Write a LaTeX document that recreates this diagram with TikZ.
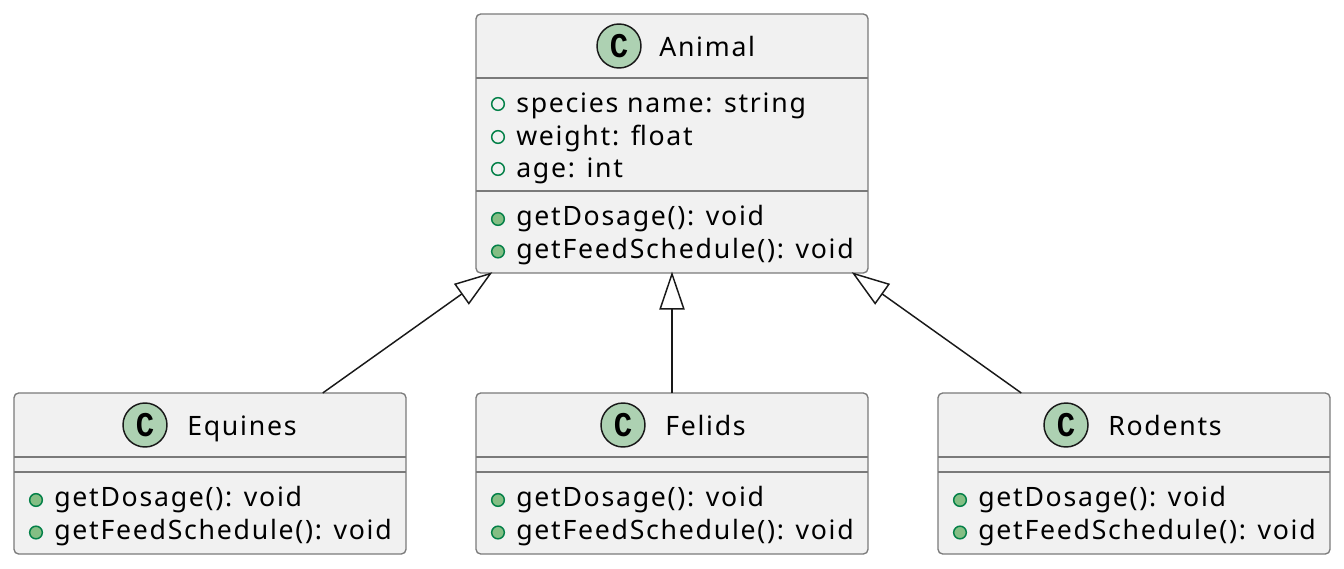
\documentclass[tikz,border=0pt]{standalone}
\usepackage{xcolor}
\usepackage{fontspec}
\setmainfont[LetterSpace=6.5]{Noto Sans}
\newfontfamily\spotfont[FakeStretch=0.88]{Liberation Mono}
\usepackage{tikz}
\usetikzlibrary{arrows.meta}
\definecolor{clsfill}{HTML}{F1F1F1}
\definecolor{clsline}{HTML}{7A7A7A}
\definecolor{spotfill}{HTML}{ADD1B2}
\definecolor{visline}{HTML}{038048}
\definecolor{visfill}{HTML}{84BE84}
\tikzset{
  clsbox/.style={draw=clsline, fill=clsfill, line width=1pt, rounded corners=3.5pt, inner sep=0pt, outer sep=0pt},
  clssep/.style={draw=clsline, line width=1pt},
  clsspot/.style={circle, draw=black!90, fill=spotfill, line width=1.1pt, minimum size=33pt, inner sep=0pt, font=\spotfont\bfseries\fontsize{26}{26}\selectfont},
  clstitle/.style={anchor=base west, inner sep=0pt, font=\fontsize{20}{24}\selectfont},
  clsrow/.style={anchor=base west, inner sep=0pt, font=\fontsize{20}{24}\selectfont},
  clsfield/.style={circle, draw=visline, fill=none, line width=1.1pt, minimum size=9.5pt, inner sep=0pt},
  clsmethod/.style={circle, draw=visline, fill=visfill, line width=1.1pt, minimum size=9.5pt, inner sep=0pt},
  clsextends/.style={draw=black!90, line width=1.1pt, shorten >=-1pt, -{Triangle[open, length=28.5pt, width=19pt, fill=white]}},
}
\begin{document}
\begin{tikzpicture}[x=0.75pt, y=-0.75pt]
\useasboundingbox (0,0) rectangle (1344,568);
% parent class
\node[clsbox, minimum width=294pt, minimum height=194.25pt] (animal) at (672,143.5) {};
\node[clsspot] (animalspot) at (619,46) {C};
\node[clstitle] (animaltitle) at (659,56) {Animal};
\draw[clssep] (animal.west |- 0,78) -- (animal.east |- 0,78);
\node[clsfield] (animalf1) at (498,104) {};
\node[clsrow] (animalr1) at (516,112) {species name: string};
\node[clsfield] (animalf2) at (498,137) {};
\node[clsrow] (animalr2) at (516,145) {weight: float};
\node[clsfield] (animalf3) at (498,169) {};
\node[clsrow] (animalr3) at (516,177) {age: int};
\draw[clssep] (animal.west |- 0,191) -- (animal.east |- 0,191);
\node[clsmethod] (animalm1) at (498,219) {};
\node[clsrow] (animalr4) at (516,225.5) {getDosage(): void};
\node[clsmethod] (animalm2) at (498,251.5) {};
\node[clsrow] (animalr5) at (516,258) {getFeedSchedule(): void};
% left class
\node[clsbox, minimum width=294pt, minimum height=120.75pt] (equines) at (210,473.5) {};
\node[clsspot] (equinesspot) at (145,425) {C};
\node[clstitle] (equinestitle) at (187,435) {Equines};
\draw[clssep] (equines.west |- 0,457) -- (equines.east |- 0,457);
\draw[clssep] (equines.west |- 0,472) -- (equines.east |- 0,472);
\node[clsmethod] (equinesm1) at (36,500) {};
\node[clsrow] (equinesr1) at (54,506.5) {getDosage(): void};
\node[clsmethod] (equinesm2) at (36,532.5) {};
\node[clsrow] (equinesr2) at (54,539) {getFeedSchedule(): void};
% middle class
\node[clsbox, minimum width=294pt, minimum height=120.75pt] (felids) at (672,473.5) {};
\node[clsspot] (felidsspot) at (623,425) {C};
\node[clstitle] (felidstitle) at (665,435) {Felids};
\draw[clssep] (felids.west |- 0,457) -- (felids.east |- 0,457);
\draw[clssep] (felids.west |- 0,472) -- (felids.east |- 0,472);
\node[clsmethod] (felidsm1) at (498,500) {};
\node[clsrow] (felidsr1) at (516,506.5) {getDosage(): void};
\node[clsmethod] (felidsm2) at (498,532.5) {};
\node[clsrow] (felidsr2) at (516,539) {getFeedSchedule(): void};
% right class
\node[clsbox, minimum width=294pt, minimum height=120.75pt] (rodents) at (1134,473.5) {};
\node[clsspot] (rodentsspot) at (1066,425) {C};
\node[clstitle] (rodentstitle) at (1108,435) {Rodents};
\draw[clssep] (rodents.west |- 0,457) -- (rodents.east |- 0,457);
\draw[clssep] (rodents.west |- 0,472) -- (rodents.east |- 0,472);
\node[clsmethod] (rodentsm1) at (960,500) {};
\node[clsrow] (rodentsr1) at (978,506.5) {getDosage(): void};
\node[clsmethod] (rodentsm2) at (960,532.5) {};
\node[clsrow] (rodentsr2) at (978,539) {getFeedSchedule(): void};
% inheritance
\draw[clsextends] (equines) -- (animal);
\draw[clsextends] (felids) -- (animal);
\draw[clsextends] (rodents) -- (animal);
\end{tikzpicture}
\end{document}
